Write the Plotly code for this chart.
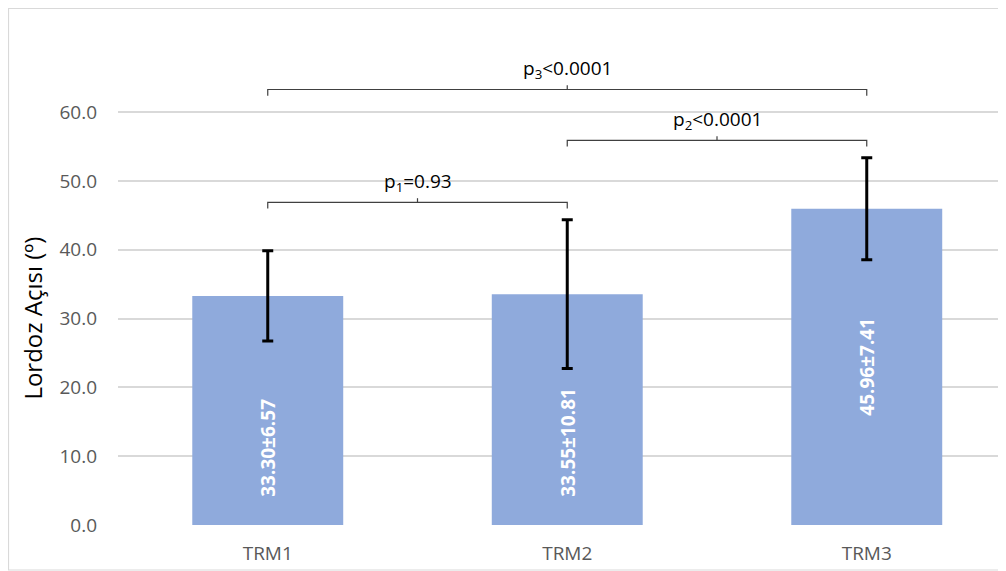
import plotly.graph_objects as go

# ---- data ----
categories = ["TRM1", "TRM2", "TRM3"]
means = [33.30, 33.55, 45.96]
sds = [6.57, 10.81, 7.41]
bar_labels = ["33.30±6.57", "33.55±10.81", "45.96±7.41"]
y_ticks = [0, 10, 20, 30, 40, 50, 60]
y_tick_labels = ["0.0", "10.0", "20.0", "30.0", "40.0", "50.0", "60.0"]
comparisons = [(0, 1), (1, 2), (0, 2)]
p_labels = ["p<sub>1</sub>=0.93", "p<sub>2</sub><0.0001", "p<sub>3</sub><0.0001"]

# ---- style / layout constants ----
WIN_W, WIN_H = 1006, 571
OFF = 8  # page body margin
W, H = WIN_W - OFF, WIN_H - OFF
ML, MR, MT, MB = 118 - OFF, 0, 9 - OFF, WIN_H - 525
bar_color = "#8FAADC"
grid_color = "#D9D9D9"
font_family = "Open Sans"
bracket_levels = [46.9, 55.9, 63.3]
label_anchor = ["base", "base", "middle"]

fig = go.Figure()
fig.add_trace(go.Bar(
    x=list(range(len(categories))), y=means,
    marker=dict(color=bar_color, line=dict(width=0)),
    width=0.504,
    error_y=dict(type="data", array=sds, visible=True, color="black",
                 thickness=3, width=5.5),
    hoverinfo="skip",
))

annotations = []
for i, (lab, m) in enumerate(zip(bar_labels, means)):
    if label_anchor[i] == "base":
        annotations.append(dict(x=i, y=0, xref="x", yref="y", text=f"<b>{lab}</b>",
                                textangle=-90, showarrow=False, yanchor="bottom",
                                yshift=26, font=dict(color="white", size=19, family=font_family)))
    else:
        annotations.append(dict(x=i, y=m / 2, xref="x", yref="y", text=f"<b>{lab}</b>",
                                textangle=-90, showarrow=False, yanchor="middle",
                                font=dict(color="white", size=19, family=font_family)))

shapes = []
tick_drop = 0.9
for (a, b), lvl, lab in zip(comparisons, bracket_levels, p_labels):
    path = f"M {a},{lvl - tick_drop} L {a},{lvl} L {b},{lvl} L {b},{lvl - tick_drop}"
    shapes.append(dict(type="path", path=path, xref="x", yref="y",
                       line=dict(color="#404040", width=1.2)))
    mid = (a + b) / 2
    shapes.append(dict(type="line", x0=mid, x1=mid, y0=lvl, y1=lvl + 0.6,
                       xref="x", yref="y", line=dict(color="#404040", width=1.2)))
    annotations.append(dict(x=mid, y=lvl + 0.6, xref="x", yref="y", text=lab,
                            showarrow=False, yanchor="bottom", yshift=0,
                            font=dict(color="black", size=19, family=font_family)))

annotations.append(dict(x=-0.0957, y=30, xref="paper", yref="y", text="Lordoz Açısı (º)",
                        textangle=-90, showarrow=False, xanchor="center", yanchor="middle",
                        font=dict(color="black", size=24, family=font_family)))

pw = W - ML - MR
ph = H - MT - MB
shapes.append(dict(type="rect", xref="paper", yref="paper",
                   x0=(0.5 - ML) / pw, x1=(W + 60 - ML) / pw,
                   y0=(H - MB - (570 - OFF)) / ph, y1=(H - MB - 0.5) / ph,
                   line=dict(color=grid_color, width=1.2), fillcolor="rgba(0,0,0,0)",
                   layer="below"))

fig.update_layout(
    width=W, height=H,
    margin=dict(l=ML, r=MR, t=MT, b=MB, pad=0),
    plot_bgcolor="white", paper_bgcolor="white",
    showlegend=False,
    xaxis=dict(range=[-0.5, -0.5 + pw / 299.5], tickvals=list(range(len(categories))),
               ticktext=categories, showgrid=False, zeroline=False, showline=False,
               tickfont=dict(color="#595959", size=19, family=font_family),
               ticks="outside", ticklen=11, tickcolor="rgba(0,0,0,0)", fixedrange=True),
    yaxis=dict(range=[0, 75], tickvals=y_ticks, ticktext=y_tick_labels,
               showgrid=True, gridcolor=grid_color, gridwidth=1.5,
               zeroline=False, showline=False,
               tickfont=dict(color="#595959", size=19, family=font_family),
               ticklabelstandoff=20, fixedrange=True),
    shapes=shapes,
    annotations=annotations,
)

fig.write_html("out.html")
